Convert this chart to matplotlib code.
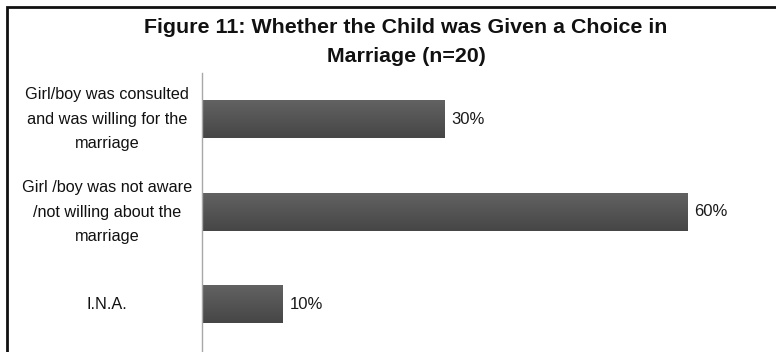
import numpy as np
import matplotlib
matplotlib.use("Agg")
import matplotlib.pyplot as plt
from matplotlib.colors import LinearSegmentedColormap
from matplotlib.patches import Rectangle

# Data
categories = [
    "Girl/boy was consulted\nand was willing for the\nmarriage",
    "Girl /boy was not aware\n/not willing about the\nmarriage",
    "I.N.A.",
]
shares = [0.30, 0.60, 0.10]
value_labels = ["30%", "60%", "10%"]
title_lines = ["Figure 11: Whether the Child was Given a Choice in", "Marriage (n=20)"]

plt.rcParams["font.family"] = ["Liberation Sans", "DejaVu Sans"]

fig = plt.figure(figsize=(7.76, 3.52), dpi=100)
W, H = 776, 352
ax = fig.add_axes([202 / W, 1 - 351 / H, 567 / W, 278 / H])

# bars with a soft vertical gradient, like the office chart
grad = LinearSegmentedColormap.from_list("bargrad", ["#626262", "#464646"])
bar_h = 0.4
ypos = np.arange(len(categories))
for y, v, lab in zip(ypos, shares, value_labels):
    g = np.linspace(0, 1, 64).reshape(-1, 1)
    ax.imshow(g, cmap=grad, aspect="auto", interpolation="bilinear",
              extent=[0, v, y + bar_h / 2, y - bar_h / 2], origin="upper", zorder=2)
    ax.text(v + 0.008, y, lab, va="center", ha="left", fontsize=12, color="#1a1a1a")

ax.set_xlim(0, 0.7)
ax.set_ylim(len(categories) - 0.5, -0.5)
ax.set_yticks(ypos)
ax.set_yticklabels(categories, fontsize=11.7, ha="center", va="center",
                   linespacing=1.78, color="#111111")
ax.tick_params(axis="y", length=0, pad=68.5)
ax.set_xticks([])
for s in ["top", "right", "bottom"]:
    ax.spines[s].set_visible(False)
ax.spines["left"].set_color("#a8a8a8")
ax.spines["left"].set_linewidth(1.0)

# title, two centred lines
fig.text(406 / W, 1 - 33 / H, title_lines[0], ha="center", va="baseline",
         fontsize=15.4, fontweight="bold", color="#111111")
fig.text(406 / W, 1 - 62 / H, title_lines[1], ha="center", va="baseline",
         fontsize=15.4, fontweight="bold", color="#111111")

# black chart frame, cut by the image edge at right and bottom
fig.patches.append(Rectangle((7 / W, -0.1), 1.2, 1 - 7 / H + 0.1, transform=fig.transFigure,
                             fill=False, edgecolor="#111111", linewidth=2.0))

fig.savefig("out.png", dpi=100)
